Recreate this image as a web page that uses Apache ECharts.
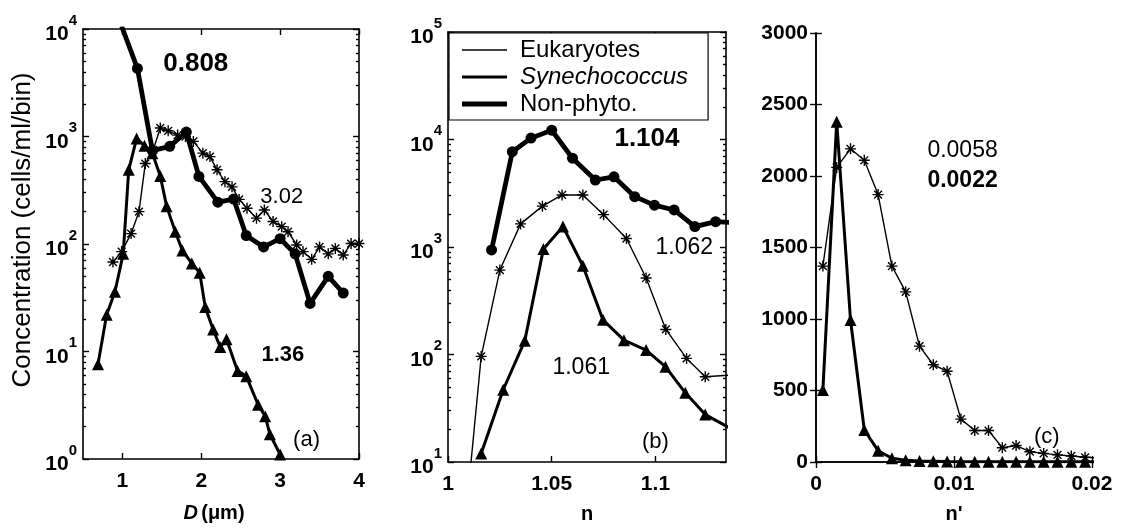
<!DOCTYPE html>
<html><head><meta charset="utf-8">
<script src="https://cdn.jsdelivr.net/npm/echarts@6/dist/echarts.min.js"></script>
<style>html,body{margin:0;padding:0;background:#fff}#c{width:1121px;height:529px}</style>
</head><body><div id="c"></div>
<script>
// ---------- Panel (a): concentration vs diameter D (um) ----------
const aEukD   = [0.88,0.99,1.11,1.21,1.29,1.39,1.48,1.58,1.70,1.80,1.90,2.02,2.11,2.20,2.30,2.39,2.48,2.58,2.70,2.80,2.91,3.02,3.10,3.21,3.29,3.40,3.50,3.61,3.70,3.80,3.90,4.00];
const aEukC   = [68,85,125,200,560,750,1200,1130,1030,1000,900,700,650,490,380,340,260,215,174,207,162,145,130,98,85,72,94,81,91,79,101,101];
const aSynD   = [0.69,0.80,0.905,1.01,1.08,1.18,1.28,1.38,1.48,1.56,1.67,1.76,1.88,1.98,2.05,2.15,2.24,2.32,2.46,2.57,2.72,2.81,2.87,3.00];
const aSynC   = [7.6,22,36,81,490,960,820,700,430,225,130,87,66,54,26,16,11,13,6.6,5.9,3.2,2.5,1.7,1.1];
const aNonD   = [0.99,1.19,1.38,1.60,1.81,1.97,2.21,2.41,2.57,2.79,3.00,3.19,3.38,3.61,3.80];
const aNonC   = [10600,4300,740,810,1100,425,245,262,120,94,112,81,28,50,35];

// ---------- Panel (b): concentration vs refractive index n ----------
const bEukN   = [1.005,1.016,1.025,1.035,1.0455,1.055,1.065,1.075,1.086,1.0955,1.105,1.115,1.124,1.144];
const bEukC   = [0.6,96,610,1640,2400,3050,3050,2000,1200,515,171,92,62,66];
const bSynN   = [1.016,1.0266,1.037,1.046,1.0554,1.065,1.0747,1.0848,1.0955,1.1048,1.1144,1.124,1.144];
const bSynC   = [12,47,134,960,1550,670,210,136,110,77,44,27.6,17];
const bNonN   = [1.021,1.031,1.040,1.050,1.060,1.071,1.080,1.090,1.0995,1.109,1.119,1.129,1.139];
const bNonC   = [940,7700,10300,12200,6700,4200,4500,2940,2450,2210,1550,1720,1680];

// ---------- Panel (c): concentration vs imaginary index n' ----------
const cNp     = [0.0005,0.0015,0.0025,0.0035,0.0045,0.0055,0.0065,0.0075,0.0085,0.0095,0.0105,0.0115,0.0125,0.0135,0.0145,0.0155,0.0165,0.0175,0.0185,0.0195,0.0205];
const cEukC   = [1370,2060,2190,2110,1870,1370,1190,810,680,635,300,220,220,100,115,72,60,50,42,33,28];
const cSynC   = [503,2380,993,224,79,26,12,7,5,3,2,2,1,1,1,1,1,1,1,1,1];

// ---------- Axis tick values ----------
const aXTicks = [1,2,3,4];
const bXTicks = [1,1.05,1.1];
const cXTicks = [0,0.01,0.02];
const aYTicks = [1,10,100,1000,10000];
const bYTicks = [10,100,1000,10000,100000];
const cYTicks = [0,500,1000,1500,2000,2500,3000];
const minorMult = [2,3,4,5,6,7,8,9];

// ---------- Annotations (text, x, y in data units, weight, size) ----------
const annA = [['0.808',1.93,4720,'bold',26],['3.02',3.02,274,'normal',22],['1.36',3.035,9.3,'bold',22],['(a)',3.335,1.49,'normal',22]];
const annB = [['1.104',1.0959,10100,'bold',26],['1.062',1.1139,990,'normal',23],['1.061',1.0642,75.7,'normal',23],['(b)',1.1,15.5,'normal',22]];
const annC = [['0.0058',0.01062,2175,'normal',23],['0.0022',0.01062,1965,'bold',23],['(c)',0.01672,175,'normal',22]];

const FONT = '"Liberation Sans", Arial, Helvetica, sans-serif';
const INK = '#000';
const STAR = 'path://M5,0L5,10M0,5L10,5M1.46,1.46L8.54,8.54M8.54,1.46L1.46,8.54';
const NAMES = ['Eukaryotes','Synechococcus','Non-phyto.'];

const zip = (xs, ys) => xs.map((x, i) => [x, ys[i]]);
const minorOf = decades => decades.slice(0, -1).flatMap(d => minorMult.map(m => m * d));

const grids = [
  {left: 83,  top: 29, width: 276, height: 430},
  {left: 448, top: 32, width: 278, height: 430},
  {left: 816, top: 33, width: 276, height: 429}
];

const tickLabel = {color: INK, fontFamily: FONT, fontSize: 21, fontWeight: 'bold'};
const axLine = {show: true, lineStyle: {color: INK, width: 1.6}};
function axTick(vals, len) { return {show: true, inside: true, length: len || 6, customValues: vals, lineStyle: {color: INK, width: 1.4}}; }

function xAxes(gi, min, max, ticks, extra) {
  const base = {type: 'value', gridIndex: gi, min: min, max: max,
    axisLine: axLine, axisTick: axTick(ticks), splitLine: {show: false}};
  const bottom = Object.assign({}, base, {position: 'bottom',
    axisLabel: Object.assign({}, tickLabel, {margin: 12, customValues: ticks,
      formatter: v => String(+(+v).toFixed(4))})}, extra || {});
  const top = Object.assign({}, base, {position: 'top', axisLabel: {show: false}});
  return [bottom, top];
}
function logFmt(v) { const e = Math.round(Math.log10(v)); return '{b|10}{s|' + e + '}'; }
const logRich = {
  b: {fontFamily: FONT, fontSize: 21, fontWeight: 'bold', color: INK, lineHeight: 32, verticalAlign: 'bottom'},
  s: {fontFamily: FONT, fontSize: 15, fontWeight: 'bold', color: INK, lineHeight: 32, verticalAlign: 'top'}
};
function yLogAxes(gi, min, max, ticks, extra) {
  const base = {type: 'log', logBase: 10, gridIndex: gi, min: min, max: max,
    axisLine: axLine, axisTick: axTick(ticks), splitLine: {show: false}};
  const left = Object.assign({}, base, {position: 'left',
    axisLabel: {formatter: logFmt, rich: logRich, margin: 6, customValues: ticks}}, extra || {});
  const right = Object.assign({}, base, {position: 'right', axisLabel: {show: false}});
  const minor = minorOf(ticks);
  const minorAx = pos => Object.assign({}, base, {position: pos, axisLine: {show: false},
    axisTick: axTick(minor, 3), axisLabel: {show: false}});
  return [left, right, minorAx('left'), minorAx('right')];
}

const nameStyle = {fontFamily: FONT, fontSize: 20, fontWeight: 'bold', color: INK};
const xAxis = [
  ...xAxes(0, 0.5, 4, aXTicks, {
    name: '{i|D} {n|(\u03bcm)}', nameLocation: 'middle', nameGap: 44,
    nameTextStyle: {padding: [0, 14, 0, 0], rich: {
      i: Object.assign({}, nameStyle, {fontStyle: 'italic'}), n: nameStyle}}}),
  ...xAxes(1, 1, 1.134, bXTicks, {
    name: 'n', nameLocation: 'middle', nameGap: 42, nameTextStyle: nameStyle}),
  ...xAxes(2, 0, 0.02, cXTicks, {
    name: "n'", nameLocation: 'middle', nameGap: 42, nameTextStyle: nameStyle})
];

const yAxis = [
  ...yLogAxes(0, 1, 10000, aYTicks, {
    name: 'Concentration (cells/ml/bin)', nameLocation: 'middle', nameGap: 47, nameRotate: 90,
    nameTextStyle: {fontFamily: FONT, fontSize: 26, color: INK, padding: [0, 0, 0, 28]}}),
  ...yLogAxes(1, 10, 100000, bYTicks),
  {type: 'value', gridIndex: 2, position: 'left', min: 0, max: 3000,
   axisLine: axLine, axisTick: axTick(cYTicks), splitLine: {show: false},
   axisLabel: Object.assign({}, tickLabel, {margin: 8, customValues: cYTicks, formatter: v => String(v)})},
  {type: 'value', gridIndex: 2, position: 'right', min: 0, max: 3000,
   axisLine: axLine, axisTick: axTick(cYTicks), splitLine: {show: false}, axisLabel: {show: false}}
];
// y-axis indices: panel a = 0, panel b = 4, panel c = 8

const styles = {
  'Eukaryotes':    {lw: 1.4, symbol: STAR, size: 11, item: {color: 'rgba(0,0,0,0)', borderColor: INK, borderWidth: 1.4}},
  'Synechococcus': {lw: 3, symbol: 'triangle', size: 12, item: {color: INK}},
  'Non-phyto.':    {lw: 4.8, symbol: 'circle', size: 11, item: {color: INK}}
};
function lineSeries(name, xi, yi, data) {
  const s = styles[name];
  return {type: 'line', name: name, xAxisIndex: xi, yAxisIndex: yi, data: data,
    symbol: s.symbol, symbolSize: s.size, showAllSymbol: true, clip: true,
    lineStyle: {color: INK, width: s.lw}, itemStyle: s.item,
    emphasis: {disabled: true}, z: name === 'Eukaryotes' ? 3 : 2};
}

const series = [
  lineSeries('Eukaryotes', 0, 0, zip(aEukD, aEukC)),
  lineSeries('Synechococcus', 0, 0, zip(aSynD, aSynC)),
  lineSeries('Non-phyto.', 0, 0, zip(aNonD, aNonC)),
  lineSeries('Eukaryotes', 2, 4, zip(bEukN, bEukC)),
  lineSeries('Synechococcus', 2, 4, zip(bSynN, bSynC)),
  lineSeries('Non-phyto.', 2, 4, zip(bNonN, bNonC)),
  lineSeries('Eukaryotes', 4, 8, zip(cNp, cEukC)),
  lineSeries('Synechococcus', 4, 8, zip(cNp, cSynC))
];

const legendWidths = [1.3, 2.8, 4.8];
const legendText = {fontFamily: FONT, fontSize: 24, color: INK};
const option = {
  animation: false,
  backgroundColor: '#fff',
  grid: grids,
  xAxis: xAxis,
  yAxis: yAxis,
  legend: {
    orient: 'vertical', left: 449, top: 33, z: 10,
    padding: [5, 20, 4, 13], itemGap: 3, itemWidth: 53, itemHeight: 24,
    backgroundColor: '#fff', borderColor: INK, borderWidth: 1.2, borderRadius: 0,
    selectedMode: false,
    textStyle: legendText,
    data: NAMES.map((n, i) => ({
      name: n,
      icon: 'path://M0,0H45V' + legendWidths[i] + 'H0Z M53,0',
      itemStyle: {color: INK, borderWidth: 0},
      textStyle: i === 1 ? Object.assign({}, legendText, {fontStyle: 'italic'}) : legendText
    }))
  },
  series: series
};
const chart = echarts.init(document.getElementById('c'), null, {renderer: 'canvas'});
chart.setOption(option);

// Annotation texts, anchored through each panel's own coordinate system
const anchorSeries = [0, 3, 6];
const graphics = [];
[annA, annB, annC].forEach((list, p) => {
  list.forEach(a => {
    const pt = chart.convertToPixel({seriesIndex: anchorSeries[p]}, [a[1], a[2]]);
    graphics.push({type: 'text', x: pt[0], y: pt[1], z: 20, silent: true,
      style: {text: a[0], fill: INK, fontFamily: FONT, fontSize: a[4], fontWeight: a[3],
              align: 'center', verticalAlign: 'middle', textAlign: 'center', textVerticalAlign: 'middle'}});
  });
});
chart.setOption({graphic: graphics});
</script>
</body></html>
